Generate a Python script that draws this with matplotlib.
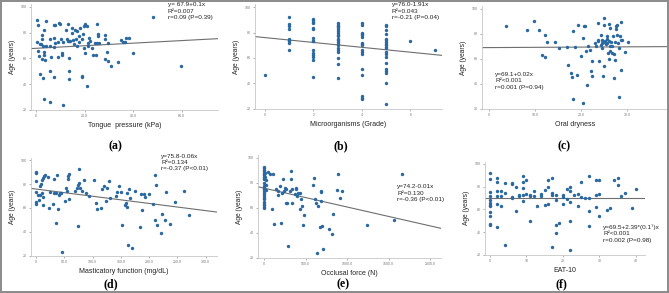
import numpy as np
import matplotlib.pyplot as plt
from matplotlib.patches import Rectangle

plt.rcParams['font.family'] = ['Liberation Sans', 'DejaVu Sans']

# (a) tongue pressure (kPa) vs age
tp_x = [0.4, 0.8, 4, 3.4, 2.4, 2.6, 1.5, 2, 3, 4, 0.7, 3.4, 3.4, 1.2, 2.6, 3.8, 6, 5.7, 5.7, 7.4,
        7.3, 8, 9.4, 9.9, 9.1, 8, 7.4, 10.7, 9.1, 1.5, 3, 5.7, 7.4, 3.4, 5.8, 11.3, 13.6, 13.6, 19, 19,
        20.8, 12.3, 13, 12.7, 13, 13.6, 14.1, 14.7, 15, 15.2, 16.3, 17, 17.6, 18.3, 19, 19.4, 19.8, 20.3, 21, 20.3,
        21.3, 21.6, 21.9, 22.4, 23, 23.3, 24.2, 25, 25, 25.5, 25.5, 24.9, 26, 28.2, 28.5, 29.2, 28.5, 29.5, 30.8, 29.5,
        33.8, 35.1, 35.9, 36.8, 37.2, 38.1, 39.9, 48, 59.6, 10.3, 11, 10.5, 13.6, 15.6, 17, 17.6, 16, 19.6, 0.4]
tp_y = [90, 86, 89, 82, 78, 75, 71, 71, 70, 70, 66, 65, 63, 62, 59.5, 59, 61, 70, 75, 76,
        86, 86, 87.5, 87, 73, 72, 69, 63, 61, 48, 45, 50, 45.5, 28.5, 26.5, 23.5, 50, 44, 46.5, 45.5,
        39, 82, 87, 75, 73.5, 73.5, 73.5, 80, 84, 74.5, 75, 69.5, 73, 84, 75, 79, 85.5, 87, 85.5, 64,
        72, 70, 76, 73.5, 68, 63, 72, 72, 87, 79, 77.5, 63, 72, 78, 75, 65, 59.5, 58, 54, 72,
        57.5, 74, 73, 73, 76, 76, 64, 92, 54.5, 75, 73, 64, 60, 71, 81, 77.5, 82, 68.5, 73]

# (b) microorganisms grade vs age
mo_x = [0] + [1] * 9 + [2] * 15 + [3] * 20 + [4] * 17 + [5] * 20 + [6, 7]
mo_y = [47,
        92, 86.5, 85, 83, 75, 74, 73, 72, 66,
        90.5, 89.5, 88.5, 87.5, 83.5, 83, 76, 73.5, 73, 66, 64, 62.5, 61, 58.5, 45,
        87.5, 86, 85, 84, 83, 81, 79.5, 78, 77, 75, 74, 72.5, 71, 70, 67.5, 66, 64.5, 60, 55, 44.5,
        87.5, 86, 80, 79, 78, 76.5, 72, 71, 70, 66, 64.5, 63, 51, 47, 30, 29, 28,
        86, 85, 82, 79, 75, 74, 72.5, 71, 70, 68.5, 67.5, 64.5, 63, 61, 56, 51.5, 50, 48, 40.5, 24,
        73, 66.5]

# (c) oral dryness vs age
od_x = [3.6, 8.2, 9.8, 10.8, 12.2, 12.7, 11.6, 12.2, 14.4, 15.2, 16.9, 17.2, 17.8, 18, 18.3, 18.3, 18.8, 19.3,
        19.2, 20.4, 20.5, 20.6, 20.1, 20.9, 21, 21.4, 21.6, 21.9, 22.1, 22.3, 22.5, 23, 23.2, 23.6, 23.7, 23.8,
        24, 24.3, 24.4, 24.6, 24.6, 24.8, 25, 25.1, 25.1, 25.2, 25.4, 25.6, 25.7, 25.9, 26, 26.1, 26.1, 26.2,
        26.3, 26.4, 26.6, 26.8, 26.9, 27.2, 27.2, 27.3, 27.5, 27.7, 27.7, 27.9, 27.9, 28, 28.3, 28.3, 28.4, 28.6,
        28.8, 28.8, 29, 29.6, 30.3, 24.5, 25, 25.7, 26.8]
od_y = [86.6, 83.4, 90.6, 83.4, 79.4, 73.3, 63.4, 61.5, 73.3, 68.7, 69.5, 55.3, 48.7, 45.5, 27.8, 82.6, 69.5, 87.4,
        47.3, 76.7, 24.6, 86.6, 62.6, 86.6, 66, 39.3, 70, 67.4, 50.5, 46.5, 58.6, 72.7, 70.6, 74, 88.8, 75.4,
        58.6, 71.4, 79.4, 72.7, 68.7, 46.5, 92.8, 54.5, 87.4, 74, 71.9, 78, 72.7, 64.7, 88, 74.6, 59.9, 84.8,
        70, 66.6, 73.5, 64.7, 78, 63.9, 44.4, 73.3, 59.4, 86.6, 84, 87.4, 79.4, 72.7, 29.7, 68.7, 78, 75.4,
        89.3, 50.8, 75.4, 65.5, 73.5, 75.4, 73.3, 76, 70]

# (d) masticatory function (mg/dL) vs age
mf_x = [0, 0, 0, 0.6, 0.6, 0.6, 3, 4.7, 6.5, 7.7, 9.5, 10.6, 11.8, 13.6, 15.4, 10.6, 11.8, 11.8, 21.3, 22.4,
        25.4, 30, 31.3, 32.5, 34.8, 36, 37.2, 38.4, 40.2, 42, 45, 46, 50.8, 53.2, 55, 56.1, 56.7, 57.9, 57.9, 69.7,
        72.7, 73.8, 76.8, 75.6, 77.4, 73.8, 81.5, 85.6, 88.6, 93.3, 102.2, 105.2, 107, 114, 117, 120, 123, 125, 129, 131,
        141, 144, 147, 150, 152.4, 157, 158.5, 160, 161, 164.5, 166, 162.5, 169, 175, 184, 188, 185, 190, 193, 200,
        207, 210, 212, 211, 213, 220, 222, 228, 230, 237, 245, 262, 271]
mf_y = [90, 89, 82.5, 73.3, 65, 63, 70.5, 66.7, 70.5, 78.3, 80.3, 83.3, 85.3, 86.7, 87.2, 72.2, 69.4, 62.2, 86, 60.3,
        73.3, 63, 84.4, 72.8, 72.8, 47.8, 87.2, 58.9, 70.5, 72.8, 72.8, 23.6, 65.8, 77, 74.2, 86.7, 84.4, 88, 67.2, 74.2,
        77, 78.9, 92.2, 81.1, 77, 45, 74.2, 83, 72.8, 70, 83.3, 64.4, 58.9, 60, 76, 78.3, 65.8, 77, 82.5, 68,
        70, 73.3, 78.3, 73.3, 46, 62.2, 63.9, 61, 72.2, 76, 68.6, 28.9, 27, 74.2, 44, 58, 72, 72, 69.4, 72,
        63, 87.2, 78.9, 50, 46, 39, 54.7, 50, 73.3, 47, 65, 74.2, 53.9]

# (e) occlusal force (N) vs age
of_x = [0] * 25 + [10, 15, 20, 25, 20, 48, 68, 109, 101, 117, 149, 169, 189, 209, 221, 229, 241, 249, 262, 270,
        278, 290, 310, 322, 330, 338, 342, 370, 382, 390, 398, 410, 431, 439, 451, 459, 471, 479, 584, 600,
        612, 624, 644, 672, 684, 692, 692, 704, 712, 785, 813, 825, 632, 893, 881, 913, 942, 1235, 1565, 1658, 169]
of_y = [92.8, 91.8, 90.7, 89.4, 88.1, 86.8, 86, 85, 84.2, 82.8, 80.1, 77.5, 76.2, 74.8, 73.5, 72.2, 71.4, 69.5,
        68.2, 66.9, 64.8, 63.4, 62.1, 60.8, 60.3,
        85, 88, 82, 78, 74, 88.6, 87.5, 87.5, 59.5, 47, 75.4, 73.5, 77.5, 48.3, 72.2, 82.8, 73.5, 76.2, 63.7, 74.8,
        63.7, 29.3, 73.5, 89.4, 82.8, 63.7, 74.8, 70.9, 76.2, 74.8, 69.5, 72.2, 72.2, 59.5, 66.9, 61.6, 46.5, 54.2, 78, 84.1,
        66.9, 64.2, 61.6, 44.4, 73.5, 73, 65.6, 45.7, 27.2, 43, 39.1, 55, 24, 87.5, 74.3, 68.2, 73.5, 46.5, 50.5, 87.5, 70.1]

# (f) EAT-10 vs age
eat_x = [0] * 12 + [2] * 6 + [3] * 3 + [4] * 3 + [6] * 4 + [7] * 2 + [8] * 2 + [9] * 5 + [10] * 2 + [11] * 3 \
    + [12] * 2 + [13] + [14] * 2 + [15] * 2 + [16] * 3 + [17] * 4 + [18] * 4 + [19] + [20] * 3 + [21] * 2 \
    + [22] * 5 + [23] + [24] * 2 + [25] * 2 + [26] + [27] * 4 + [29] * 3 + [30] * 3 + [32, 33, 34, 35, 35, 36, 37, 39, 40]
eat_y = [92, 86.8, 75.1, 71.6, 68.6, 65.7, 64.2, 62.8, 58, 54.5, 47.2, 46.3,
         87.4, 84.5, 76, 72.1, 64.8, 44.3,
         76, 72.1, 63.3,
         83, 74.2, 29,
         83, 82.4, 70.7, 69.8,
         79.5, 59,
         72.7, 72.1,
         89.1, 83.9, 78.6, 72.7, 67.7,
         86.2, 73.6,
         72.7, 72.1, 50.1,
         76.5, 72.1,
         62.8,
         73.6, 71.6,
         77.1, 63.9,
         86.2, 80.1, 64.8,
         87.7, 74.5, 72.7, 27.3,
         72.7, 68.6, 46.3, 39,
         48.1,
         72.7, 70.7, 64.8,
         78, 69.2,
         79.5, 76, 66.3, 50.1, 24.3,
         72.7,
         73.6, 62.8,
         83.9, 70.7,
         69.8,
         89.7, 69.8, 59, 45.2,
         86.2, 72.7, 61.9,
         86.2, 73.6, 54,
         59.8, 61, 86.2, 87.4, 81.8, 71.6, 74.2, 61, 78]

# fitted line (intercept, slope) as drawn in each panel
fit_a = (67.9, 0.1)
fit_b = (76.0, -1.91)
fit_c = (69.1, 0.02)
fit_d = (75.8, -0.06)
fit_e = (75.9, -0.0151)
fit_f = (69.8, 0.0)

eq_a = "y= 67.9+0.1x\nR\u00b2=0.007\nr=0.09 (P=0.39)"
eq_b = "y=76.0-1.91x\nR\u00b2=0.043\nr=-0.21 (P=0.04)"
eq_c = "y=69.1+0.02x\nR\u00b2<0.001\nr=0.001 (P=0.94)"
eq_d = "y=75.8-0.06x\nR\u00b2=0.134\nr=-0.37 (P<0.01)"
eq_e = "y=74.2-0.01x\nR\u00b2=0.130\nr=-0.36 (P<0.01)"
eq_f = "y=69.5+2.39*(0.1\u2077)x\nR\u00b2<0.001\nr=0.002 (P=0.98)"

age_ticks = [20, 40, 60, 80, 100]

panels = [
    dict(x=tp_x, y=tp_y, fit=fit_a, eq=eq_a, txt=(0.73, 1.02), pos=[0.0466, 0.6246, 0.2795, 0.3604],
         xlim=(-2, 75), xt=[0, 20, 40, 60], xtl=['0', '20.0', '40.0', '60.0'],
         xlabel='Tongue  pressure (kPa)', tag='(a)', tagpos=(0.172, 0.502)),
    dict(x=mo_x, y=mo_y, fit=fit_b, eq=eq_b, txt=(0.73, 1.02), pos=[0.3816, 0.628, 0.279, 0.3568],
         xlim=(-0.4, 7.3), xt=[0, 2, 4, 6], xtl=['0', '2', '4', '6'],
         xlabel='Microorganisms (Grade)', tag='(b)', tagpos=(0.510, 0.502)),
    dict(x=od_x, y=od_y, fit=fit_c, eq=eq_c, txt=(0.07, 0.36), pos=[0.7206, 0.628, 0.2778, 0.350],
         xlim=(-1.5, 38.9), xt=[0, 10, 20, 30], xtl=['0', '10.0', '20.0', '30.0'],
         xlabel='Oral dryness', tag='(c)', tagpos=(0.843, 0.502)),
    dict(x=mf_x, y=mf_y, fit=fit_d, eq=eq_d, txt=(0.70, 1.04), pos=[0.0462, 0.1263, 0.2783, 0.3358],
         xlim=(-9, 320), xt=[0, 50, 100, 150, 200, 250, 300],
         xtl=['0', '50.0', '100.0', '150.0', '200.0', '250.0', '300.0'],
         xlabel='Masticatory function (mg/dL)', tag='(d)', tagpos=(0.165, 0.031)),
    dict(x=of_x, y=of_y, fit=fit_e, eq=eq_e, txt=(0.76, 0.72), pos=[0.386, 0.1195, 0.273, 0.3498],
         xlim=(-70, 2130), xt=[0, 500, 1000, 1500, 2000],
         xtl=['0', '500.0', '1000.0', '1500.0', '2000.0'],
         xlabel='Occlusal force (N)', tag='(e)', tagpos=(0.513, 0.031)),
    dict(x=eat_x, y=eat_y, fit=fit_f, eq=eq_f, txt=(0.74, 0.33), pos=[0.7248, 0.1297, 0.2395, 0.3184],
         xlim=(-1.4, 42.5), xt=[0, 10, 20, 30, 40], xtl=['0', '10', '20', '30', '40'],
         xlabel='EAT-10', tag='(f)', tagpos=(0.839, 0.031)),
]

fig = plt.figure(figsize=(6.69, 2.93), dpi=100)

for p in panels:
    ax = fig.add_axes(p['pos'])
    ax.scatter(p['x'], p['y'], s=6, color='#2a68a2', linewidths=0, zorder=3)
    xs = np.array(p['xlim'])
    ax.plot(xs, p['fit'][0] + p['fit'][1] * xs, color='#6e6e6e', lw=0.8, zorder=2)
    ax.set_xlim(p['xlim'])
    ax.set_ylim(20, 102)
    ax.set_xticks(p['xt'])
    ax.set_xticklabels(p['xtl'])
    ax.set_yticks(age_ticks)
    ax.tick_params(labelsize=2.6, colors='#777777', length=1.5, width=0.4, pad=1.5)
    for s in ['top', 'right']:
        ax.spines[s].set_visible(False)
    for s in ['left', 'bottom']:
        ax.spines[s].set_color('#c8c8c8')
        ax.spines[s].set_linewidth(0.6)
    ax.set_xlabel(p['xlabel'], fontsize=5, labelpad=2.5, color='#222222')
    ax.set_ylabel('Age (years)', fontsize=4.8, labelpad=3.5, color='#222222')
    ax.text(p['txt'][0], p['txt'][1], p['eq'], transform=ax.transAxes, fontsize=4.6,
            va='top', ha='left', linespacing=1.35, color='#222222')
    fig.text(p['tagpos'][0], p['tagpos'][1], p['tag'], fontsize=8.5, fontweight='bold',
             family='Liberation Serif', ha='center', va='center')

fig.patches.append(Rectangle((0.0015, 0.003), 0.997, 0.994, transform=fig.transFigure,
                             fill=False, edgecolor='#8a8a8a', linewidth=1.4))

fig.savefig('out.png', dpi=100)
